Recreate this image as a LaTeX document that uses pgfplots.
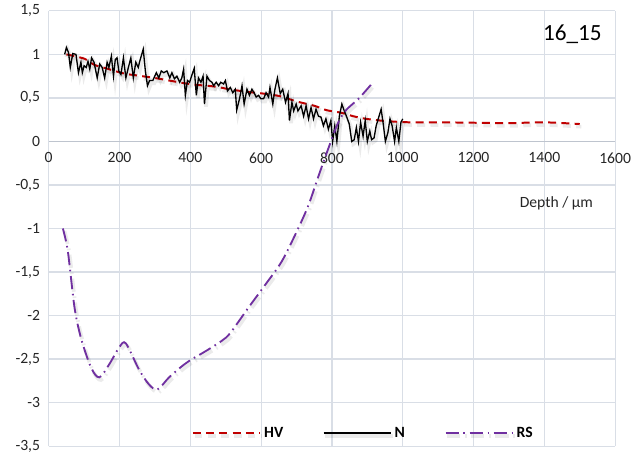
\documentclass[border=0pt]{standalone}
\usepackage{fontspec}
\setmainfont{Carlito}
\usepackage{pgfplots}
\pgfplotsset{compat=1.18}
\definecolor{gridc}{RGB}{217,222,230}
\definecolor{axisc}{RGB}{190,196,206}
\definecolor{hvred}{RGB}{192,0,0}
\definecolor{rspurple}{RGB}{112,48,160}
\tikzset{soft shadow/.style={preaction={draw=black, draw opacity=0.08, line width=2.8pt,
  transform canvas={xshift=1.2pt, yshift=-2pt}}}}

\begin{document}
\begin{tikzpicture}
\begin{axis}[
  width=427.5pt, height=328.5pt, scale only axis,
  xmin=0, xmax=1600, ymin=-3.5, ymax=1.5,
  xtick distance=200, ytick distance=0.5,
  axis x line=middle, axis y line=left,
  hide obscured x ticks=false, hide obscured y ticks=false,
  x axis line style={-, draw=axisc, line width=0.9pt},
  y axis line style={-, draw=gridc, line width=0.9pt},
  grid=major, major grid style={draw=gridc, line width=0.9pt},
  major tick length=0,
  /pgf/number format/assume math mode=true,
  /pgf/number format/use comma,
  /pgf/number format/1000 sep={},
  tick label style={font=\fontsize{11.8}{13}\selectfont, text=black!85},
  xticklabel style={yshift=-5pt},
  yticklabel style={xshift=-3pt},
  legend style={at={(0.556,0.03)}, anchor=center, draw=none, fill=none,
    legend columns=-1, font=\bfseries\fontsize{11.8}{13}\selectfont,
    /tikz/every even column/.append style={column sep=28pt}},
  legend image code/.code={{\tikzset{soft shadow/.style={}}\draw[#1] (0pt,0pt) -- (51pt,0pt);}},
]
\addplot[hvred, line width=1.5pt, dash pattern=on 6pt off 4pt, smooth, soft shadow] coordinates {
(50,1.00) (101,0.95) (129,0.88) (162,0.84) (213,0.78) (246,0.76) (298,0.73)
(340,0.70) (382,0.67) (419,0.65) (470,0.63) (510,0.60) (559,0.57) (606,0.55)
(653,0.52) (700,0.46) (750,0.41) (784,0.36) (826,0.33) (860,0.29) (896,0.26)
(950,0.235) (1018,0.22) (1100,0.22) (1200,0.215) (1300,0.21) (1397,0.22) (1500,0.20)
};
\addlegendentry{HV}
\addplot[black, line width=1pt, soft shadow] coordinates {
(45,1.00) (50,1.08) (56,1.02) (61,0.85) (68,1.01) (77,1.00) (84,0.79) (91,0.91)
(95,0.79) (100,0.87) (106,0.85) (111,0.92) (116,0.83) (121,0.96) (128,0.91)
(137,0.73) (144,0.89) (151,0.85) (158,0.73) (165,0.91) (170,0.85) (177,0.98)
(183,0.75) (188,0.94) (193,0.96) (198,0.81) (204,0.77) (211,0.96) (218,0.73)
(225,0.85) (232,0.96) (239,0.73) (246,0.91) (253,0.85) (257,0.92) (267,1.06)
(273,0.81) (279,0.64) (285,0.70) (294,0.70) (304,0.79) (311,0.73) (318,0.81)
(325,0.79) (334,0.81) (342,0.73) (348,0.79) (355,0.72) (362,0.75) (370,0.68)
(376,0.73) (381,0.83) (386,0.53) (392,0.70) (398,0.68) (405,0.77) (411,0.84)
(417,0.53) (423,0.73) (430,0.68) (436,0.75) (440,0.43) (447,0.75) (454,0.70)
(461,0.68) (466,0.64) (473,0.68) (480,0.64) (486,0.68) (494,0.66) (499,0.70)
(505,0.58) (513,0.62) (520,0.56) (527,0.60) (531,0.36) (539,0.49) (546,0.64)
(552,0.43) (560,0.60) (567,0.53) (574,0.60) (580,0.56) (586,0.51) (593,0.53)
(599,0.49) (607,0.49) (614,0.56) (621,0.51) (625,0.62) (633,0.43) (639,0.60)
(646,0.73) (654,0.55) (661,0.60) (669,0.45) (676,0.55) (680,0.24) (687,0.45)
(692,0.35) (699,0.43) (704,0.35) (713,0.41) (720,0.29) (727,0.41) (734,0.26)
(741,0.39) (748,0.26) (755,0.37) (762,0.29) (769,0.28) (776,0.18) (783,0.26)
(790,0.14) (797,0.24) (802,0.00) (808,0.18) (814,0.00) (821,0.29) (828,0.43)
(835,0.35) (841,0.29) (849,0.20) (856,0.00) (863,0.02) (869,0.16) (875,0.00)
(881,0.22) (888,0.06) (894,0.24) (900,0.00) (907,0.12) (912,0.02) (919,0.04)
(925,0.18) (933,0.29) (939,0.37) (945,0.20) (951,0.00) (958,0.10) (964,0.26)
(970,0.18) (977,0.00) (982,0.16) (989,0.00) (995,0.22) (1000,0.26)
};
\addlegendentry{N}
\addplot[rspurple, line width=1.4pt, dash pattern=on 10pt off 3.5pt on 1.2pt off 3.5pt, smooth, soft shadow] coordinates {
(40,-1.00) (54,-1.26) (73,-1.91) (92,-2.27) (120,-2.60) (143,-2.71) (171,-2.56)
(200,-2.36) (218,-2.32) (255,-2.62) (283,-2.79) (307,-2.85) (340,-2.71)
(377,-2.58) (405,-2.50) (443,-2.41) (489,-2.29) (513,-2.20) (564,-1.91)
(611,-1.65) (658,-1.38) (700,-1.04) (733,-0.74) (761,-0.41) (789,-0.09)
(817,0.21) (840,0.36) (875,0.49) (910,0.65)
};
\addlegendentry{RS}
\node[font=\fontsize{17.5}{19}\selectfont, anchor=base] at (axis cs:1479,1.154) {16\_15};
\node[font=\fontsize{11.8}{13}\selectfont, text=black!85, anchor=base] at (axis cs:1434,-0.755) {Depth / µm};
\coordinate (bbsw) at (rel axis cs:-0.086,-0.032);
\coordinate (bbne) at (rel axis cs:1.028,1.025);
\end{axis}
\pgfresetboundingbox
\useasboundingbox (bbsw) rectangle (bbne);
\end{tikzpicture}
\end{document}
